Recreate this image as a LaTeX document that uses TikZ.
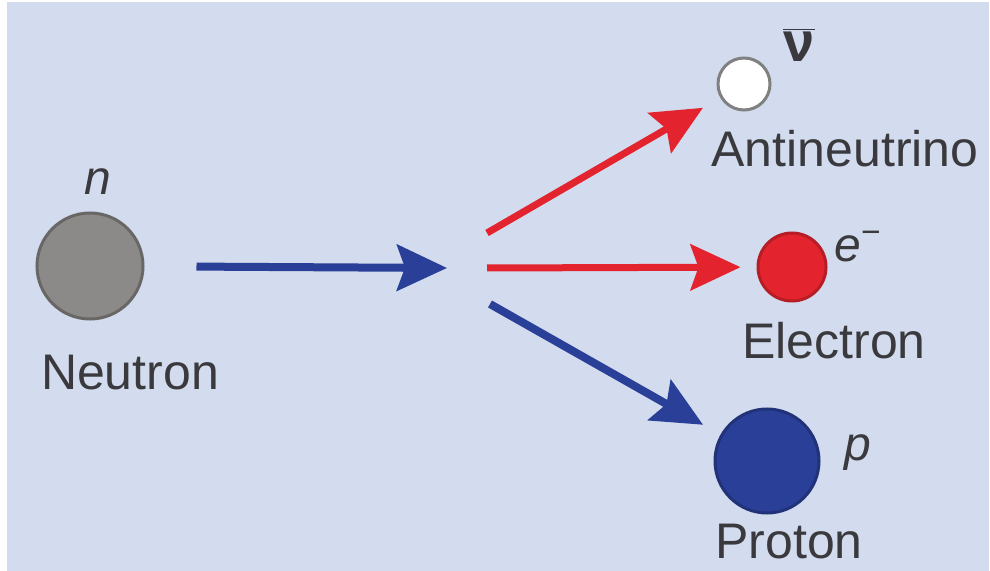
\documentclass[tikz,border=0pt]{standalone}
\usepackage{fontspec}
\setmainfont{Liberation Sans}
\usepackage{xcolor}
\usetikzlibrary{arrows.meta}

\definecolor{bgblue}{HTML}{D3DCEE}
\definecolor{txtgray}{HTML}{3A3A3E}
\definecolor{decayblue}{HTML}{2A3F97}
\definecolor{decayred}{HTML}{E3242E}
\definecolor{ngray}{HTML}{8B8A88}

\begin{document}
\begin{tikzpicture}[x=0.5pt, y=-0.5pt,
        particle/.style={circle, draw, line width=1.5pt, inner sep=0pt},
        pname/.style={text=txtgray, font=\fontsize{25}{30}\selectfont, anchor=base, inner sep=1pt},
        psymb/.style={text=txtgray, font=\fontsize{24}{28}\selectfont\itshape, anchor=base},
        bluearrow/.style={-{Stealth[length=25pt, width=23pt, inset=4pt]}, line width=4pt, draw=decayblue},
        redarrow/.style={-{Stealth[length=25pt, width=23pt, inset=4pt]}, line width=3.5pt, draw=decayred}
        ]

        \fill[white] (0,0) rectangle (990,571);
        \fill[bgblue] (7,2) rectangle (989,571);
        \useasboundingbox (0,0) rectangle (990,571);

        \node[particle, fill=ngray, draw=ngray!75!black, minimum size=53pt] (neutron) at (90,266) {};
        \node[particle, fill=white, draw=gray, minimum size=26pt] (antinu) at (744,84) {};
        \node[particle, fill=decayred, draw=decayred!80!black, minimum size=34pt] (electron) at (792,267) {};
        \node[particle, fill=decayblue, draw=decayblue!80!black, minimum size=52pt] (proton) at (767,461) {};

        \node[psymb] (nsym) at (98,195) {n};
        \node[pname] (nname) at (130,390) {Neutron};
        \node[text=txtgray, font=\fontsize{28}{32}\selectfont\bfseries, anchor=base] (nubar) at (799,62) {$\overline{\mbox{ν}}$};
        \node[pname] (antiname) at (845,167) {Antineutrino};
        \node[psymb] (esym) at (858,262) {e\textsuperscript{\upshape −}};
        \node[pname] (ename) at (834,359) {Electron};
        \node[psymb] (psym) at (858,460) {p};
        \node[pname] (pname) at (789,558) {Proton};

        \coordinate (split) at (447,268);
        \coordinate (up) at (487,233);
        \coordinate (mid) at (487,268);
        \coordinate (low) at (490,304);

        \draw[bluearrow, shorten <=26pt] (neutron) -- (split);
        \draw[redarrow, shorten >=10pt] (up) -- (antinu);
        \draw[redarrow, shorten >=8pt] (mid) -- (electron);
        \draw[bluearrow, shorten >=10pt] (low) -- (proton);

    \end{tikzpicture}
\end{document}
